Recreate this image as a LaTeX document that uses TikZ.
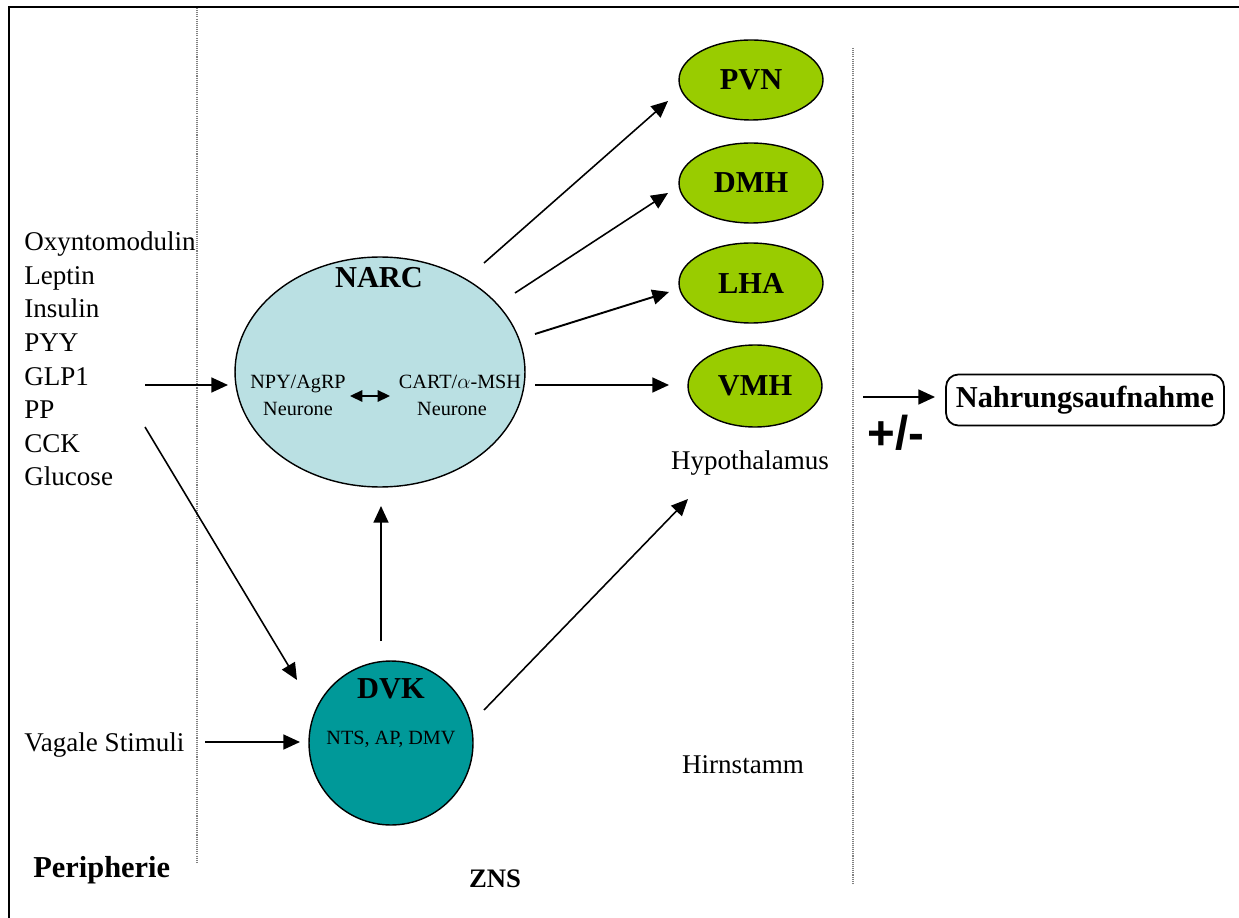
\documentclass[tikz,border=0pt]{standalone}
\usepackage{fontspec}
\setmainfont{Liberation Serif}
\newfontfamily\arialfam{Liberation Sans}
\usetikzlibrary{arrows.meta,shapes.geometric}
\definecolor{narcblue}{RGB}{186,224,227}
\definecolor{dvkteal}{RGB}{0,153,153}
\definecolor{nucgreen}{RGB}{153,204,0}
\begin{document}
\begin{tikzpicture}[x=0.02cm,y=-0.02cm,
  reg/.style={font=\fontsize{15.4}{18}\selectfont, inner sep=0pt},
  smalltxt/.style={font=\fontsize{11.5}{14}\selectfont, inner sep=0pt},
  lbl/.style={font=\fontsize{17.3}{20}\selectfont\bfseries, inner sep=0pt},
  nucleus/.style={ellipse, draw, line width=0.8pt, fill=nucgreen, inner sep=0pt,
    minimum width=2.88cm, minimum height=1.6cm, font=\fontsize{17.3}{20}\selectfont\bfseries},
  arr/.style={-{Triangle[length=9.5pt,width=8.5pt]}, line width=1.1pt},
  thinarr/.style={arr, line width=0.9pt},
  divider/.style={draw=gray, line width=0.7pt, dash pattern=on 0.6pt off 0.6pt}]
\useasboundingbox (0,0) rectangle (1239,918);
\clip (0,0) rectangle (1239,918);
% frame
\draw[line width=1.3pt] (9,940) -- (9,7) -- (1260,7);
% dividers
\draw[divider] (197,8) -- (197,862);
\draw[divider] (853,48) -- (853,884);

% signals
\node[reg, anchor=base west] (s1) at (24,251) {Oxyntomodulin};
\node[reg, anchor=base west] (s2) at (24,284.5) {Leptin};
\node[reg, anchor=base west] (s3) at (24,318) {Insulin};
\node[reg, anchor=base west] (s4) at (24,351.5) {PYY};
\node[reg, anchor=base west] (s5) at (24,385) {GLP1};
\node[reg, anchor=base west] (s6) at (24,418.5) {PP};
\node[reg, anchor=base west] (s7) at (24,452) {CCK};
\node[reg, anchor=base west] (s8) at (24,485.5) {Glucose};
\node[reg, anchor=base west] (vag) at (24,751) {Vagale Stimuli};

% NARC
\node[ellipse, draw, line width=0.8pt, fill=narcblue, inner sep=0pt,
  minimum width=5.8cm, minimum height=4.6cm] (narc) at (380,372) {};
\node[lbl, anchor=base] (narclbl) at (379,288) {NARC};
\node[smalltxt, anchor=base] (npy) at (298,388) {NPY/AgRP};
\node[smalltxt, anchor=base] (npyn) at (298,415) {Neurone};
\node[smalltxt, anchor=base] (cart) at (460,388) {CART/$\alpha$-MSH};
\node[smalltxt, anchor=base] (cartn) at (452,415) {Neurone};
\coordinate (dblL) at (350,396);
\coordinate (dblR) at (390,396);
\draw[{Triangle[length=7pt,width=6.5pt]}-{Triangle[length=7pt,width=6.5pt]}, line width=1pt] (dblL) -- (dblR);

% DVK
\node[circle, draw, line width=0.8pt, fill=dvkteal, inner sep=0pt,
  minimum size=3.28cm] (dvk) at (391,743) {};
\node[lbl, anchor=base] (dvklbl) at (391,698) {DVK};
\node[smalltxt, anchor=base] (nts) at (391,744) {NTS, AP, DMV};

% hypothalamic nuclei
\node[nucleus] (pvn) at (751,80) {PVN};
\node[nucleus] (dmh) at (751,183) {DMH};
\node[nucleus] (lha) at (751,283) {LHA};
\node[nucleus, minimum width=2.68cm, minimum height=1.64cm] (vmh) at (755,386) {VMH};
\node[reg, anchor=base] (hyp) at (750,469) {Hypothalamus};
\node[reg, anchor=base] (hirn) at (743,773) {Hirnstamm};

% output
\node[draw, line width=1pt, rounded corners=7pt, minimum width=5.56cm, minimum height=1.02cm,
  inner sep=0pt, font=\fontsize{17.3}{20}\selectfont\bfseries] (food) at (1085,400) {Nahrungsaufnahme};
\node[inner sep=0pt, font=\arialfam\bfseries\fontsize{27}{30}\selectfont] (pm) at (896,433) {+/-};

% region labels
\node[lbl, anchor=base west] (peri) at (33,877) {Peripherie};
\node[anchor=base, inner sep=0pt, font=\fontsize{15.2}{18}\selectfont\bfseries] (zns) at (495,887) {ZNS};

% connector end points
\coordinate (c1s) at (145,385); \coordinate (c1e) at (228,385);
\coordinate (c2s) at (145,427); \coordinate (c2e) at (297,680);
\coordinate (c3s) at (205,742); \coordinate (c3e) at (300,742);
\coordinate (c4s) at (381,641); \coordinate (c4e) at (381,506);
\coordinate (c5s) at (484,710); \coordinate (c5e) at (688,499);
\coordinate (c6s) at (484,263); \coordinate (c6e) at (668,101);
\coordinate (c7s) at (515,293); \coordinate (c7e) at (668,193);
\coordinate (c8s) at (535,334); \coordinate (c8e) at (669,292);
\coordinate (c9s) at (535,385); \coordinate (c9e) at (669,385);
\coordinate (c10s) at (863,397); \coordinate (c10e) at (935,397);

\draw[arr] (c1s) -- (c1e);
\draw[thinarr] (c2s) -- (c2e);
\draw[arr] (c3s) -- (c3e);
\draw[arr] (c4s) -- (c4e);
\draw[thinarr] (c5s) -- (c5e);
\draw[thinarr] (c6s) -- (c6e);
\draw[thinarr] (c7s) -- (c7e);
\draw[arr] (c8s) -- (c8e);
\draw[arr] (c9s) -- (c9e);
\draw[arr] (c10s) -- (c10e);
\end{tikzpicture}
\end{document}
